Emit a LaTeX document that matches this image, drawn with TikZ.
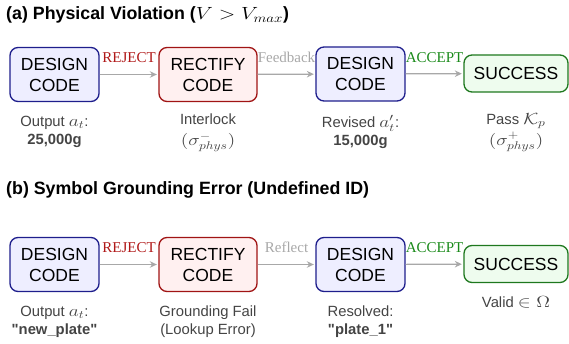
\documentclass[tikz,border=0pt]{standalone}
\usepackage{fontspec}
\usepackage{graphicx}
\setmainfont{Liberation Sans}[Ligatures=TeXOff]
\newfontfamily\lblfont{Liberation Serif}
\usetikzlibrary{arrows.meta,positioning}
\definecolor{dblue}{HTML}{1E1E8C}
\definecolor{lblue}{HTML}{EEEEFF}
\definecolor{dred}{HTML}{A01414}
\definecolor{lred}{HTML}{FFF0F0}
\definecolor{dgreen}{HTML}{1E781E}
\definecolor{lgreen}{HTML}{EEFCEE}
\definecolor{rejc}{HTML}{B01818}
\definecolor{accc}{HTML}{1A8A1A}
\definecolor{arrc}{HTML}{A8A8A8}
\definecolor{subc}{HTML}{444444}
\newcommand{\wmath}[1]{\scalebox{1.35}[1.12]{$#1$}}
\newcommand{\tmath}[1]{\scalebox{1.25}[1.02]{$#1$}}
\tikzset{
  box/.style={draw, line width=1.3pt, rounded corners=8pt, align=center,
    font=\fontsize{17.5}{21}\selectfont, inner sep=0pt, minimum height=54pt},
  designbox/.style={box, draw=dblue, fill=lblue, minimum width=89pt},
  rectbox/.style={box, draw=dred, fill=lred, minimum width=98pt},
  succbox/.style={box, draw=dgreen, fill=lgreen, minimum width=104pt, minimum height=37pt},
  flow/.style={draw=arrc, line width=1.2pt, -{Stealth[length=7pt,width=6.5pt]}, shorten >=1.5pt},
  lbl/.style={midway, above=11pt, inner sep=0pt, font=\lblfont\fontsize{15}{18}\selectfont},
  subtxt/.style={anchor=north, align=center, inner sep=0pt, text=subc,
    font=\fontsize{14.8}{18}\selectfont},
  title/.style={anchor=west, inner sep=0pt, font=\bfseries\fontsize{17.8}{21}\selectfont}
}
\begin{document}
\begin{tikzpicture}[x=1pt,y=-1pt]
\useasboundingbox (0,0) rectangle (569,344);
% Row (a)
\node[title] (ta) at (6,15) {(a) Physical Violation (\tmath{V > V_{max}})};
\node[designbox] (a1) at (54.5,74.5) {DESIGN\\CODE};
\node[rectbox] (a2) at (208,74.5) {RECTIFY\\CODE};
\node[designbox] (a3) at (360.5,74) {DESIGN\\CODE};
\node[succbox] (a4) at (516,73.5) {SUCCESS};
\draw[flow] (a1) -- node[lbl, text=rejc] {REJECT} (a2);
\draw[flow] (a2) -- node[lbl, text=arrc] {Feedback} (a3);
\draw[flow] (a3) -- node[lbl, text=accc] {ACCEPT} (a4);
\node[subtxt] (sa1) at (54.5,116) {Output \wmath{a_t}:\\\textbf{25,000g}};
\node[subtxt] (sa2) at (208,114) {Interlock\\[3pt]\wmath{(\sigma^{-}_{phys})}};
\node[subtxt] (sa3) at (360.5,115) {Revised \wmath{a'_t}:\\\textbf{15,000g}};
\node[subtxt] (sa4) at (516,113) {Pass \wmath{\mathcal{K}_p}\\[3pt]\wmath{(\sigma^{+}_{phys})}};
% Row (b)
\node[title] (tb) at (6,190) {(b) Symbol Grounding Error (Undefined ID)};
\node[designbox] (b1) at (54.5,264.5) {DESIGN\\CODE};
\node[rectbox] (b2) at (208,264.5) {RECTIFY\\CODE};
\node[designbox] (b3) at (360.5,264.5) {DESIGN\\CODE};
\node[succbox] (b4) at (516,264) {SUCCESS};
\draw[flow] (b1) -- node[lbl, text=rejc] {REJECT} (b2);
\draw[flow] (b2) -- node[lbl, text=arrc] {Reflect} (b3);
\draw[flow] (b3) -- node[lbl, text=accc] {ACCEPT} (b4);
\node[subtxt] (sb1) at (54.5,306) {Output \wmath{a_t}:\\\textbf{"new\_plate"}};
\node[subtxt] (sb2) at (208,306) {Grounding Fail\\(Lookup Error)};
\node[subtxt] (sb3) at (360.5,306) {Resolved:\\\textbf{"plate\_1"}};
\node[subtxt] (sb4) at (516,296) {Valid \wmath{\in\Omega}};
\end{tikzpicture}
\end{document}
